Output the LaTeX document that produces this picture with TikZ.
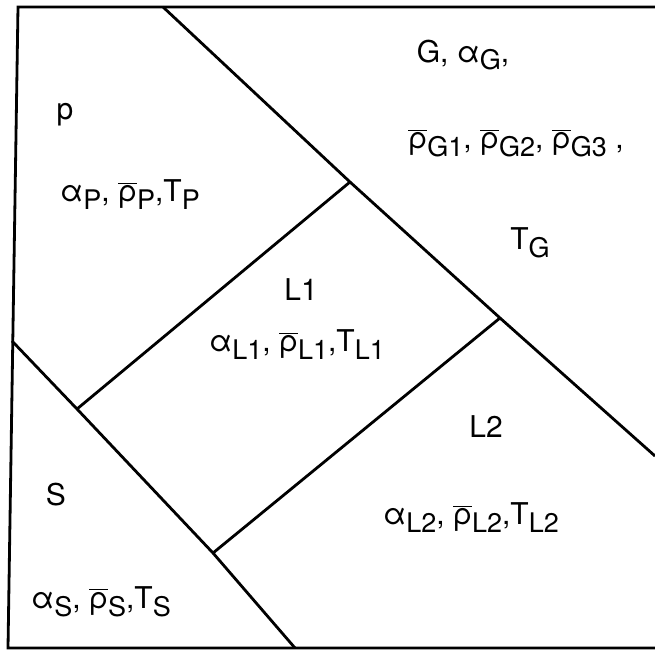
\documentclass[tikz,border=0pt]{standalone}
\usepackage{fontspec}
\setmainfont{TeX Gyre Heros}
\newcommand{\rbar}{$\overline{\hbox{ρ}}$}
\newcommand{\lo}[1]{\raisebox{-0.5ex}{\fontsize{13.5}{14}\selectfont #1}}
\tikzset{
  wall/.style={line width=1.4pt, line join=miter},
  lab/.style={font=\fontsize{15}{18}\selectfont, inner sep=0pt}
}
\begin{document}
\begin{tikzpicture}[x=0.5pt,y=-0.5pt]
    \useasboundingbox (0,0) rectangle (655,651);

    % frame
    \coordinate (tl) at (18,7);
    \coordinate (tr) at (655,7);
    \coordinate (bl) at (8,648);
    \coordinate (br) at (655,648);
    \draw[wall] (tr) -- (tl) -- (bl) -- (br);

    % boundaries
    \coordinate (gtop) at (163,7);
    \coordinate (ga) at (350,182);
    \coordinate (gb) at (500,318);
    \coordinate (gend) at (655,456);
    \coordinate (sleft) at (12,341);
    \coordinate (sa) at (77,409);
    \coordinate (sb) at (213,553);
    \coordinate (send) at (295,648);

    \draw[wall] (gtop) -- (ga) -- (gb) -- (gend);
    \draw[wall] (sleft) -- (sa) -- (sb) -- (send);
    \draw[wall] (sa) -- (ga);
    \draw[wall] (sb) -- (gb);

    % labels
    \node[lab] (p) at (65,115){p};
    \node[lab] (pdata) at (130,195){α\lo{P}, \rbar\lo{P},T\lo{P}};

    \node[lab] (g) at (463,55){G, α\lo{G},};
    \node[lab] (grho) at (516,143){\rbar\lo{G1}, \rbar\lo{G2}, \rbar\lo{G3} ,};
    \node[lab] (gT) at (530,243){T\lo{G}};

    \node[lab] (l1) at (301,290){L1};
    \node[lab] (l1data) at (297,345){α\lo{L1}, \rbar\lo{L1},T\lo{L1}};

    \node[lab] (l2) at (486,427){L2};
    \node[lab] (l2data) at (471,518){α\lo{L2}, \rbar\lo{L2},T\lo{L2}};

    \node[lab] (s) at (56,495){S};
    \node[lab] (sdata) at (101,602){α\lo{S}, \rbar\lo{S},T\lo{S}};
\end{tikzpicture}
\end{document}
